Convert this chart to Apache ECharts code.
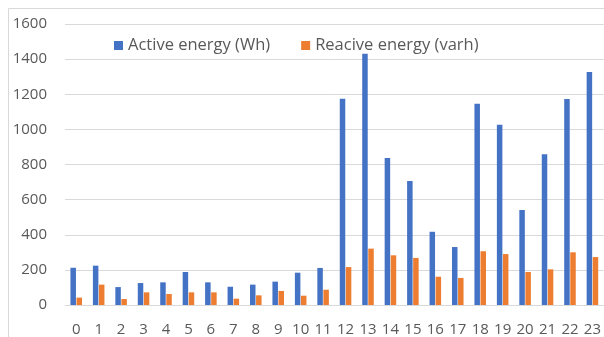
<!DOCTYPE html>
<html><head><meta charset="utf-8">
<script src="https://cdn.jsdelivr.net/npm/echarts@6/dist/echarts.min.js"></script>
<style>html,body{margin:0;padding:0;background:#fff}#c{width:604px;height:337px}</style>
</head><body><div id="c"></div>
<script>
const categories = ['0','1','2','3','4','5','6','7','8','9','10','11','12','13','14','15','16','17','18','19','20','21','22','23'];
const activeEnergy = [212,224,102,125,129,188,129,104,116,133,184,211,1175,1431,837,706,417,330,1146,1027,541,858,1173,1327];
const reactiveEnergy = [42,116,34,72,63,72,72,36,55,80,53,87,216,321,283,268,161,154,306,290,188,203,300,273];
const seriesNames = ['Active energy (Wh)', 'Reacive energy (varh)'];
const yMin = 0, yMax = 1600, yStep = 200;

const chart = echarts.init(document.getElementById('c'), null, {renderer:'canvas'});
const font = '"Open Sans", sans-serif';
chart.setOption({
  animation: false,
  backgroundColor: '#fff',
  graphic: [{type:'rect', shape:{x:8.5,y:8.5,width:700,height:400}, style:{fill:'none', stroke:'#d9d9d9', lineWidth:1}, silent:true}],
  legend: {
    top: 32, left: 109, itemWidth: 9, itemHeight: 9, itemGap: 31,
    icon: 'rect',
    textStyle: {fontFamily: font, fontSize: 16.5, color: '#595959', padding: [0,0,0,0]},
    data: seriesNames
  },
  grid: {left: 65, right: 0, top: 24, bottom: 32, containLabel: false},
  xAxis: {
    type: 'category', data: categories,
    axisLine: {lineStyle: {color: '#d9d9d9'}},
    axisTick: {show: false},
    axisLabel: {fontFamily: font, fontSize: 15, color: '#595959', margin: 17}
  },
  yAxis: {
    type: 'value', min: yMin, max: yMax, interval: yStep,
    axisLine: {show: false}, axisTick: {show: false},
    splitLine: {lineStyle: {color: '#d9d9d9'}},
    axisLabel: {fontFamily: font, fontSize: 15, color: '#595959', margin: 18, formatter: v => String(v)}
  },
  series: [
    {name: seriesNames[0], type: 'bar', data: activeEnergy, barWidth: 5.5, barGap: '10%', itemStyle: {color: '#4472C4'}},
    {name: seriesNames[1], type: 'bar', data: reactiveEnergy, barWidth: 5.5, itemStyle: {color: '#ED7D31'}}
  ]
});
</script></body></html>
